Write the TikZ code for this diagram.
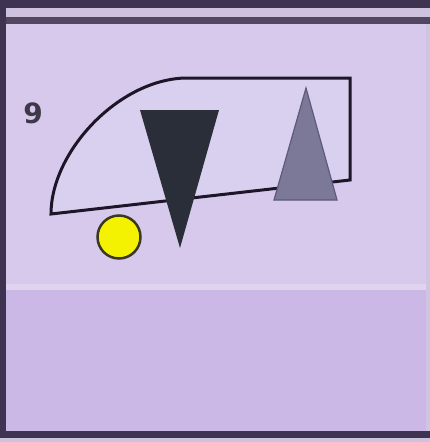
\documentclass[tikz,border=0pt]{standalone}
\usepackage{fontspec}
\setmainfont{DejaVu Sans}
\definecolor{bgtop}{HTML}{D6C9EC}
\definecolor{bgbot}{HTML}{CBB8E7}
\definecolor{frame}{HTML}{3E3350}
\definecolor{band}{HTML}{CFC2DF}
\definecolor{inner}{HTML}{D9D0EF}
\definecolor{outline}{HTML}{1C1628}
\definecolor{darktri}{HTML}{2A2E38}
\definecolor{graytri}{HTML}{7B7898}
\definecolor{graytrie}{HTML}{5E5A7C}
\definecolor{ball}{HTML}{F4F200}
\definecolor{balle}{HTML}{3A3820}
\tikzset{
  shapeline/.style={draw=outline, line width=3pt, fill=inner, line join=miter},
  label9/.style={font=\fontsize{28}{28}\selectfont\bfseries, text=outline!85!white, inner sep=0pt}
}
\begin{document}
\begin{tikzpicture}[x=1pt,y=-1pt]
\useasboundingbox (0,0) rectangle (430,442);
% background
\fill[bgtop] (0,0) rectangle (430,288);
\fill[bgbot] (0,288) rectangle (430,442);
\fill[bgtop!80!white] (0,284) rectangle (430,290);
% frame
\fill[frame] (0,0) rectangle (430,8);
\fill[band] (0,8) rectangle (430,17);
\fill[frame!90!white] (0,17) rectangle (430,24);
\fill[frame] (0,0) rectangle (6,437);
\fill[frame] (0,431) rectangle (430,438);
\fill[band] (0,438) rectangle (430,442);
\fill[band!70!bgtop] (426,24) rectangle (430,431);
% label
\node[label9] (nine) at (33,113) {9};
% outline shape
\coordinate (bl) at (51,214);
\coordinate (tl) at (185,78);
\coordinate (tr) at (350,78);
\coordinate (br) at (350,180);
\draw[shapeline] (bl) .. controls (51,152) and (118,80) .. (tl) -- (tr) -- (br) -- cycle;
% black triangle
\coordinate (k1) at (140,110);
\coordinate (k2) at (219,110);
\coordinate (k3) at (180,248);
\fill[darktri] (k1) -- (k2) -- (k3) -- cycle;
% gray triangle
\coordinate (g1) at (306,88);
\coordinate (g2) at (337,200);
\coordinate (g3) at (274,200);
\draw[graytrie, fill=graytri, line width=1.2pt, line join=miter] (g1) -- (g2) -- (g3) -- cycle;
% ball
\node[circle, draw=balle, line width=2.5pt, fill=ball, minimum size=43pt, inner sep=0pt] (ball) at (119,237) {};
\end{tikzpicture}
\end{document}
